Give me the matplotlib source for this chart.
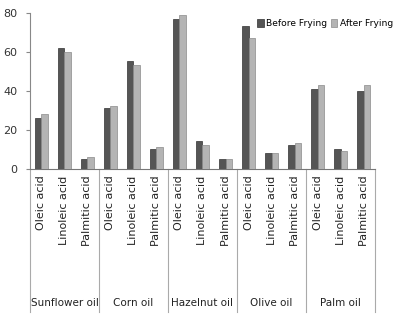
import matplotlib
matplotlib.use('Agg')
import matplotlib.pyplot as plt
import matplotlib.transforms as mtransforms
import numpy as np

# data
oils = ['Sunflower oil', 'Corn oil', 'Hazelnut oil', 'Olive oil', 'Palm oil']
acids = ['Oleic acid', 'Linoleic acid', 'Palmitic acid']
before = [26, 62, 5, 31, 55, 10, 77, 14, 5, 73, 8, 12, 41, 10, 40]
after = [28, 60, 6, 32, 53, 11, 79, 12, 5, 67, 8, 13, 43, 9, 43]
yticks = [0, 20, 40, 60, 80]

fig = plt.figure(figsize=(3.99, 3.18), dpi=100)
ax = fig.add_axes([0.075, 0.47, 0.865, 0.49])

n = len(before)
x = np.arange(n) + 0.5
w = 0.28
ax.bar(x - w / 2, before, w, color='#555555', edgecolor='#333333', linewidth=0.5,
       label='Before Frying', zorder=3)
ax.bar(x + w / 2, after, w, color='#b4b4b4', edgecolor='#8a8a8a', linewidth=0.5,
       label='After Frying', zorder=3)

ax.set_xlim(0, n)
ax.set_ylim(0, 80)
ax.set_yticks(yticks)
ax.set_yticklabels([str(v) for v in yticks], fontsize=8, color='#333333')
ax.tick_params(axis='y', length=3, color='#888888', pad=6)
ax.set_xticks([])
for s in ['top', 'right']:
    ax.spines[s].set_visible(False)
ax.spines['left'].set_color('#888888')
ax.spines['bottom'].set_color('#777777')

# category labels (rotated) and group labels
trans = mtransforms.blended_transform_factory(ax.transData, ax.transAxes)
for i in range(n):
    ax.text(x[i], -0.045, acids[i % 3], rotation=90, ha='center', va='top',
            fontsize=8, color='#222222', transform=trans)
for g, oil in enumerate(oils):
    ax.text(3 * g + 1.5, -0.86, oil, ha='center', va='center', fontsize=7.5,
            color='#222222', transform=trans)
for b in range(0, n + 1, 3):
    ax.plot([b, b], [0, -0.92], color='#aaaaaa', lw=0.8, transform=trans,
            clip_on=False)

fig.legend(loc='upper left', bbox_to_anchor=(0.645, 0.94), ncol=2, frameon=False,
           fontsize=6.6, handlelength=0.7, handleheight=0.9, handletextpad=0.25,
           columnspacing=0.4, borderaxespad=0, borderpad=0)

fig.savefig('out.png', dpi=100)
